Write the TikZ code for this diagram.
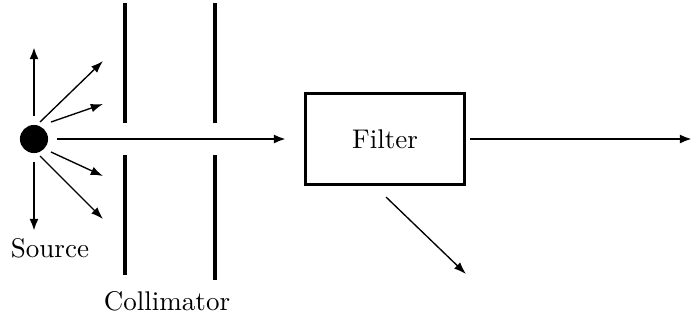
\documentclass[tikz,border=0pt]{standalone}
\usetikzlibrary{arrows.meta}
\begin{document}
\begin{tikzpicture}[x=0.37pt,y=-0.37pt,
  ray/.style={line width=0.5pt,-{Latex[length=4.5pt,width=3.2pt]}},
  beam/.style={line width=0.9pt,-{Latex[length=4.5pt,width=3.4pt]}},
  slit/.style={line width=1.5pt},
  box/.style={draw,line width=1.3pt,minimum width=59pt,minimum height=33.5pt,inner sep=0pt}]
\useasboundingbox (0,0) rectangle (692,320);
\node[circle,fill=black,minimum size=10.4pt,inner sep=0pt] (src) at (34,139) {};
\node (srclabel) at (50,248) {Source};
\node[box] (filter) at (385,139) {Filter};
\node (collabel) at (167,301) {Collimator};
% collimator slits
\coordinate (a1) at (125,3); \coordinate (a2) at (125,123);
\coordinate (a3) at (125,155); \coordinate (a4) at (125,275);
\coordinate (b1) at (215,3); \coordinate (b2) at (215,123);
\coordinate (b3) at (215,155); \coordinate (b4) at (215,280);
\draw[slit] (a1) -- (a2); \draw[slit] (a3) -- (a4);
\draw[slit] (b1) -- (b2); \draw[slit] (b3) -- (b4);
% rays from source
\coordinate (up) at (34,47); \coordinate (down) at (34,231);
\coordinate (r1) at (103,61); \coordinate (r2) at (103,104);
\coordinate (r3) at (103,176); \coordinate (r4) at (103,219);
\coordinate (mainend) at (286,139);
\draw[beam] (34,116) -- (up);
\draw[beam] (34,162) -- (down);
\draw[ray] (40,122) -- (r1);
\draw[ray] (51,122) -- (r2);
\draw[ray] (51,152) -- (r3);
\draw[ray] (40,156) -- (r4);
\draw[beam] (57,139) -- (mainend);
% filter outputs
\coordinate (outr) at (692,139);
\coordinate (outd) at (466,274);
\draw[beam] (470,139) -- (outr);
\draw[ray] (386,197) -- (outd);
\end{tikzpicture}
\end{document}
